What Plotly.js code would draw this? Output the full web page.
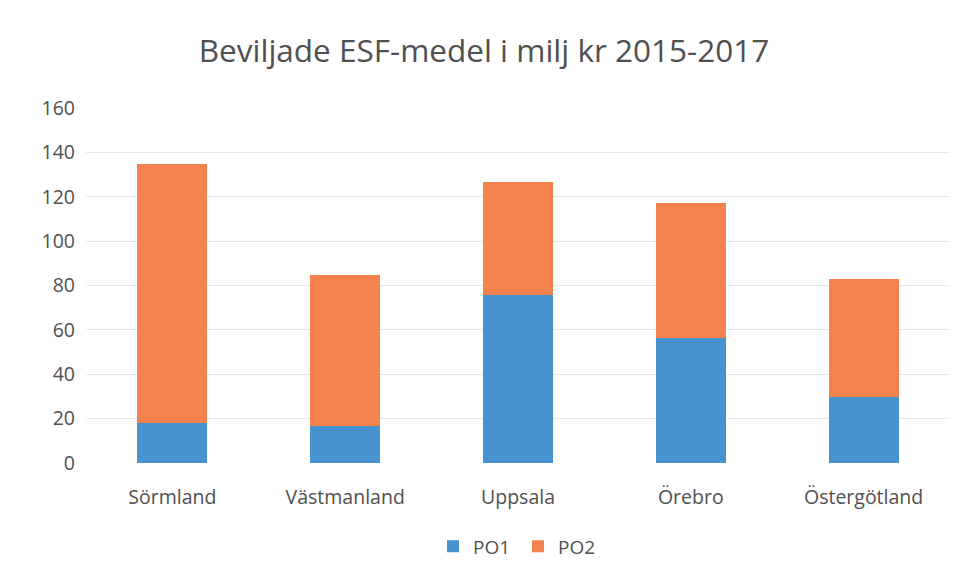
<!DOCTYPE html>
<html><head><meta charset="utf-8">
<script src="https://cdn.plot.ly/plotly-3.0.1.min.js"></script>
<style>html,body{margin:0;padding:0;background:#fff}#c{width:968px;height:579px}</style>
</head><body><div id="c"></div>
<script>
const categories = ["Sörmland", "Västmanland", "Uppsala", "Örebro", "Östergötland"];
const po1 = [18.2, 16.6, 75.7, 56.2, 29.9];
const po2 = [116.5, 68.2, 51.0, 60.8, 52.9];
const seriesNames = ["PO1", "PO2"];
const titleText = "Beviljade ESF-medel i milj kr 2015-2017";

const font = "Open Sans, Liberation Sans, sans-serif";
const data = [
  {type: "bar", name: seriesNames[0], x: categories, y: po1, marker: {color: "#4693d0"}},
  {type: "bar", name: seriesNames[1], x: categories, y: po2, marker: {color: "#f3824f"}}
];
const layout = {
  width: 968, height: 579,
  barmode: "stack", bargap: 0.595,
  paper_bgcolor: "#fff", plot_bgcolor: "#fff",
  margin: {l: 86, r: 18, t: 108, b: 116},
  title: {text: titleText, x: 0.5, xanchor: "center", y: 0.912, yanchor: "middle",
          font: {family: font, size: 31.5, color: "#505050"}},
  xaxis: {type: "category", showgrid: false, zeroline: false, showline: false,
          ticks: "", ticklabelstandoff: 20,
          tickfont: {family: font, size: 19.5, color: "#505050"}},
  yaxis: {range: [0, 160], dtick: 20, showgrid: true, gridcolor: "#e8e8e8", gridwidth: 1,
          zeroline: false, showline: false, ticks: "", ticklen: 0, ticklabelstandoff: 10,
          tickfont: {family: font, size: 19.5, color: "#505050"}},
  showlegend: true,
  legend: {orientation: "h", x: 0.5, xanchor: "center", y: -0.235, yanchor: "middle",
           traceorder: "normal", itemwidth: 30, entrywidth: 40, entrywidthmode: "pixels",
           font: {family: font, size: 19, color: "#505050"}},
};
Plotly.newPlot("c", data, layout, {displayModeBar: false, staticPlot: true});
</script></body></html>
